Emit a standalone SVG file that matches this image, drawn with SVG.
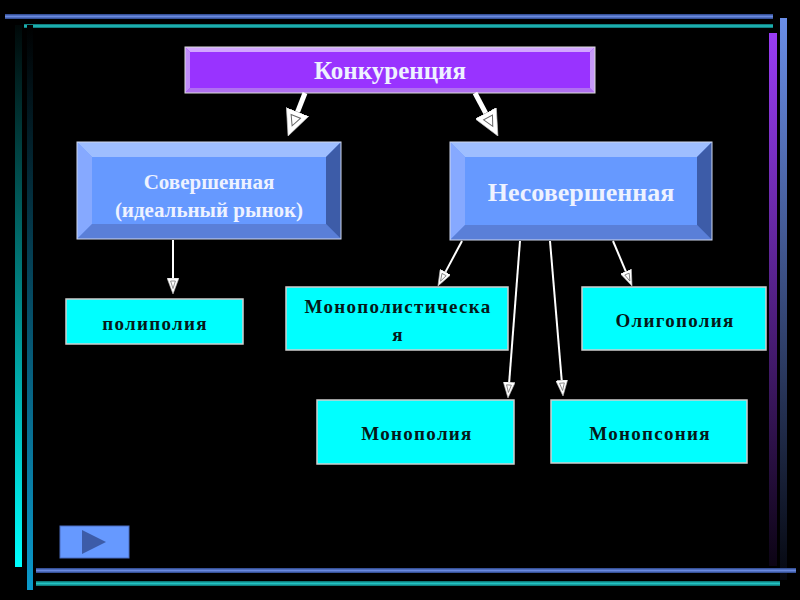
<svg xmlns="http://www.w3.org/2000/svg" width="800" height="600" viewBox="0 0 800 600">
<defs>
<linearGradient id="hBlue" x1="0" y1="0" x2="0" y2="1"><stop offset="0" stop-color="#2a4488"/><stop offset="0.5" stop-color="#6a8ae0"/><stop offset="1" stop-color="#2a4488"/></linearGradient>
<linearGradient id="hTeal" x1="0" y1="0" x2="0" y2="1"><stop offset="0" stop-color="#0a6a6a"/><stop offset="0.5" stop-color="#22c4c4"/><stop offset="1" stop-color="#0a6a6a"/></linearGradient>
<linearGradient id="vBlueR" x1="0" y1="0" x2="0" y2="1"><stop offset="0" stop-color="#6a8ee8"/><stop offset="1" stop-color="#05070f"/></linearGradient>
<linearGradient id="vPurple" x1="0" y1="0" x2="0" y2="1"><stop offset="0" stop-color="#9a3cf5"/><stop offset="1" stop-color="#0c0414"/></linearGradient>
<linearGradient id="vCyan" x1="0" y1="0" x2="0" y2="1"><stop offset="0" stop-color="#000808"/><stop offset="1" stop-color="#00ffff"/></linearGradient>
<linearGradient id="vBlueL" x1="0" y1="0" x2="0" y2="1"><stop offset="0" stop-color="#000000"/><stop offset="1" stop-color="#0a9acc"/></linearGradient>
<marker id="thin" viewBox="0 0 16 12" refX="0" refY="6" markerWidth="16" markerHeight="12" markerUnits="userSpaceOnUse" orient="auto">
<path d="M0,0 L16,6 L0,12 Z" fill="#ffffff" stroke="#bbbbbb" stroke-width="0.6"/>
<path d="M3,3.6 L10.5,6 L3,8.4 Z" fill="none" stroke="#777777" stroke-width="0.8"/>
</marker>
<marker id="thick" viewBox="0 0 26 24" refX="0" refY="12" markerWidth="26" markerHeight="24" markerUnits="userSpaceOnUse" orient="auto">
<path d="M0,0 L26,12 L0,24 Z" fill="#ffffff" stroke="#cccccc" stroke-width="0.6"/>
<path d="M5,7 L15,12 L5,17 Z" fill="none" stroke="#666666" stroke-width="1"/>
</marker>
</defs>
<style>
.serif{font-family:"Liberation Serif","Times New Roman",serif;font-weight:bold}
.cyan{fill:#00ffff;stroke:#cfcfcf;stroke-width:1.5}
.ct{font-size:19px;fill:#061818;letter-spacing:1.3px}
.wt{fill:#eef2ff}
.conn line{stroke:#ffffff}
</style>
<rect x="0" y="0" width="800" height="600" fill="#000000"/>
<g id="frame">
<rect x="5" y="14" width="768" height="5" fill="url(#hBlue)"/>
<rect x="24" y="24" width="749" height="4" fill="url(#hTeal)"/>
<rect x="780" y="18" width="7" height="562" fill="url(#vBlueR)"/>
<rect x="769" y="33" width="8" height="533" fill="url(#vPurple)"/>
<rect x="15" y="25" width="7" height="542" fill="url(#vCyan)"/>
<rect x="27" y="25" width="6" height="565" fill="url(#vBlueL)"/>
<rect x="36" y="568" width="760" height="5" fill="url(#hBlue)"/>
<rect x="36" y="581" width="744" height="5" fill="url(#hTeal)"/>
</g>
<g id="konkurenciya">
<rect x="185" y="47" width="410" height="46" fill="#9933ff"/>
<polygon points="185,47 595,47 590,52 190,52" fill="#d2a6ff"/>
<polygon points="185,47 190,52 190,88 185,93" fill="#c08cfa"/>
<polygon points="185,93 190,88 590,88 595,93" fill="#b070f0"/>
<polygon points="595,47 595,93 590,88 590,52" fill="#c79af8"/>
<rect x="185" y="47" width="410" height="46" fill="none" stroke="#dcdcdc" stroke-width="1"/>
<text x="390" y="79" text-anchor="middle" class="serif wt" font-size="25">Конкуренция</text>
</g>
<g id="sovershennaya">
<rect x="77" y="142" width="264" height="97" fill="#6699ff"/>
<polygon points="77,142 341,142 326,157 92,157" fill="#9ebeff"/>
<polygon points="77,142 92,157 92,224 77,239" fill="#86a9ff"/>
<polygon points="77,239 92,224 326,224 341,239" fill="#5a7fd8"/>
<polygon points="341,142 341,239 326,224 326,157" fill="#3d5ca8"/>
<rect x="77" y="142" width="264" height="97" fill="none" stroke="#d0d8ee" stroke-width="1"/>
<text x="209" y="189" text-anchor="middle" class="serif wt" font-size="21">Совершенная</text>
<text x="209" y="217" text-anchor="middle" class="serif wt" font-size="21">(идеальный рынок)</text>
</g>
<g id="nesovershennaya">
<rect x="450" y="142" width="262" height="98" fill="#6699ff"/>
<polygon points="450,142 712,142 697,157 465,157" fill="#9ebeff"/>
<polygon points="450,142 465,157 465,225 450,240" fill="#86a9ff"/>
<polygon points="450,240 465,225 697,225 712,240" fill="#5a7fd8"/>
<polygon points="712,142 712,240 697,225 697,157" fill="#3d5ca8"/>
<rect x="450" y="142" width="262" height="98" fill="none" stroke="#d0d8ee" stroke-width="1"/>
<text x="581" y="201" text-anchor="middle" class="serif wt" font-size="26">Несовершенная</text>
</g>
<g id="polipoliya">
<rect x="66" y="299" width="177" height="45" class="cyan"/>
<text x="155" y="330" text-anchor="middle" class="serif ct">полиполия</text>
</g>
<g id="monopolisticheskaya">
<rect x="286" y="287" width="222" height="63" class="cyan"/>
<text x="398" y="313" text-anchor="middle" class="serif ct">Монополистическа</text>
<text x="398" y="341" text-anchor="middle" class="serif ct">я</text>
</g>
<g id="oligopoliya">
<rect x="582" y="287" width="184" height="63" class="cyan"/>
<text x="675" y="327" text-anchor="middle" class="serif ct">Олигополия</text>
</g>
<g id="monopoliya">
<rect x="317" y="400" width="197" height="64" class="cyan"/>
<text x="417" y="440" text-anchor="middle" class="serif ct">Монополия</text>
</g>
<g id="monopsoniya">
<rect x="551" y="400" width="196" height="63" class="cyan"/>
<text x="650" y="440" text-anchor="middle" class="serif ct">Монопсония</text>
</g>
<g id="connectors" class="conn">
<line x1="305" y1="93" x2="297.6" y2="111.8" stroke-width="5" marker-end="url(#thick)"/>
<line x1="475" y1="93" x2="485.7" y2="113.1" stroke-width="5" marker-end="url(#thick)"/>
<line x1="173" y1="240" x2="173" y2="278" stroke-width="2" marker-end="url(#thin)"/>
<line x1="462" y1="241" x2="445.5" y2="271.9" stroke-width="2" marker-end="url(#thin)"/>
<line x1="520" y1="241" x2="509.2" y2="382" stroke-width="2" marker-end="url(#thin)"/>
<line x1="550" y1="241" x2="561.7" y2="380.1" stroke-width="2" marker-end="url(#thin)"/>
<line x1="613" y1="241" x2="625.8" y2="271.3" stroke-width="2" marker-end="url(#thin)"/>
</g>
<g id="play-button">
<rect x="60" y="526" width="69" height="32" fill="#6699ff" stroke="#4a6cc0" stroke-width="1"/>
<polygon points="82,530 82,554 106,542" fill="#3d5ca8"/>
</g>
</svg>
